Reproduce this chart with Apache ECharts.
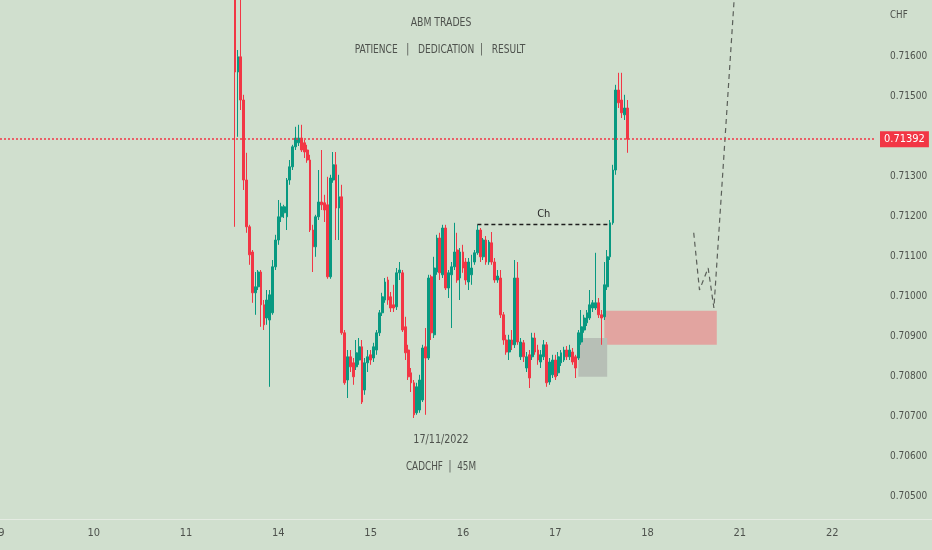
<!DOCTYPE html>
<html>
<head>
<meta charset="utf-8">
<title>CADCHF 45M</title>
<script src="https://cdn.jsdelivr.net/npm/echarts@6/dist/echarts.min.js"></script>
<style>
html, body { margin: 0; padding: 0; background: #d0dfce; }
#chart { width: 932px; height: 550px; }
</style>
</head>
<body>
<div id="chart"></div>
<script>
const dayLabels = ['9', '10', '11', '14', '15', '16', '17', '18', '21', '22']
const barsPerDay = 32
const totalSlots = 303
const firstSlot = 81

const opens = [
  0.71753, 0.71560, 0.71598, 0.71490, 0.71290, 0.71173, 0.71110, 0.71008, 0.71023, 0.71060,
  0.70978, 0.70945, 0.70940, 0.70958, 0.71073, 0.71140, 0.71198, 0.71208, 0.71198, 0.71290,
  0.71323, 0.71373, 0.71383, 0.71395, 0.71383, 0.71365, 0.71340, 0.71165, 0.71123, 0.71198,
  0.71235, 0.71233, 0.71228, 0.71048, 0.71290, 0.71328, 0.71220, 0.71248, 0.70908, 0.70790,
  0.70848, 0.70833, 0.70823, 0.70840, 0.70873, 0.70765, 0.70833, 0.70853, 0.70845, 0.70865,
  0.70908, 0.70958, 0.70990, 0.71040, 0.70998, 0.70978, 0.70973, 0.71058, 0.71058, 0.70923,
  0.70865, 0.70808, 0.70783, 0.70708, 0.70715, 0.70740, 0.70873, 0.70845, 0.71048, 0.70903,
  0.71060, 0.71145, 0.71053, 0.71170, 0.71020, 0.71053, 0.71073, 0.71115, 0.71045, 0.71110,
  0.71085, 0.71035, 0.71053, 0.71085, 0.71108, 0.71165, 0.71098, 0.71140, 0.71085, 0.71133,
  0.71085, 0.71040, 0.71045, 0.70953, 0.70890, 0.70860, 0.70890, 0.70878, 0.71045, 0.70848,
  0.70883, 0.70820, 0.70853, 0.70848, 0.70895, 0.70865, 0.70835, 0.70848, 0.70878, 0.70785,
  0.70803, 0.70840, 0.70808, 0.70833, 0.70840, 0.70865, 0.70848, 0.70860, 0.70848, 0.70845,
  0.70885, 0.70915, 0.70933, 0.70945, 0.70970, 0.70970, 0.70983, 0.70953, 0.70948, 0.71023,
  0.71098, 0.71183, 0.71315, 0.71515, 0.71490, 0.71453, 0.71470
]
const closes = [
  0.71560, 0.71598, 0.71490, 0.71290, 0.71173, 0.71103, 0.71008, 0.71023, 0.71060, 0.70978,
  0.70928, 0.70990, 0.71003, 0.71073, 0.71140, 0.71198, 0.71223, 0.71223, 0.71290, 0.71323,
  0.71373, 0.71395, 0.71395, 0.71365, 0.71360, 0.71340, 0.71165, 0.71123, 0.71198, 0.71235,
  0.71228, 0.71215, 0.71048, 0.71295, 0.71328, 0.71220, 0.71248, 0.70908, 0.70783, 0.70848,
  0.70823, 0.70798, 0.70858, 0.70873, 0.70735, 0.70833, 0.70848, 0.70840, 0.70873, 0.70908,
  0.70958, 0.70998, 0.71035, 0.70990, 0.70970, 0.70970, 0.71058, 0.71065, 0.70915, 0.70858,
  0.70798, 0.70783, 0.70703, 0.70773, 0.70790, 0.70870, 0.70845, 0.71045, 0.70908, 0.71070,
  0.71145, 0.71058, 0.71170, 0.71020, 0.71058, 0.71073, 0.71110, 0.71040, 0.71110, 0.71070,
  0.71040, 0.71085, 0.71070, 0.71108, 0.71165, 0.71098, 0.71140, 0.71085, 0.71135, 0.71085,
  0.71040, 0.71050, 0.70953, 0.70890, 0.70860, 0.70890, 0.70878, 0.71045, 0.70885, 0.70885,
  0.70848, 0.70848, 0.70795, 0.70895, 0.70860, 0.70840, 0.70853, 0.70878, 0.70783, 0.70835,
  0.70840, 0.70798, 0.70848, 0.70858, 0.70865, 0.70848, 0.70865, 0.70835, 0.70820, 0.70908,
  0.70923, 0.70945, 0.70958, 0.70978, 0.70983, 0.70983, 0.70953, 0.70945, 0.71028, 0.71098,
  0.71183, 0.71315, 0.71515, 0.71483, 0.71458, 0.71470, 0.71392
]
const lows = [
  0.71173, 0.71398, 0.71465, 0.71265, 0.71158, 0.71078, 0.70983, 0.70953, 0.71015, 0.70923,
  0.70915, 0.70928, 0.70773, 0.70953, 0.71065, 0.71128, 0.71185, 0.71195, 0.71165, 0.71278,
  0.71315, 0.71365, 0.71375, 0.71360, 0.71345, 0.71333, 0.71160, 0.71060, 0.71098, 0.71190,
  0.71215, 0.71185, 0.71043, 0.71043, 0.71283, 0.71140, 0.71140, 0.70903, 0.70778, 0.70745,
  0.70810, 0.70778, 0.70815, 0.70828, 0.70730, 0.70753, 0.70810, 0.70828, 0.70835, 0.70853,
  0.70900, 0.70950, 0.70983, 0.70978, 0.70960, 0.70960, 0.70965, 0.71040, 0.70910, 0.70840,
  0.70790, 0.70760, 0.70695, 0.70703, 0.70708, 0.70735, 0.70703, 0.70840, 0.70890, 0.70895,
  0.71053, 0.71040, 0.71045, 0.71015, 0.70995, 0.70920, 0.71065, 0.71033, 0.70990, 0.71058,
  0.71028, 0.71015, 0.71028, 0.71078, 0.71103, 0.71085, 0.71090, 0.71078, 0.71078, 0.71078,
  0.71033, 0.71033, 0.70945, 0.70878, 0.70853, 0.70840, 0.70865, 0.70870, 0.70878, 0.70840,
  0.70835, 0.70810, 0.70770, 0.70840, 0.70853, 0.70828, 0.70820, 0.70840, 0.70773, 0.70778,
  0.70795, 0.70790, 0.70800, 0.70825, 0.70835, 0.70840, 0.70840, 0.70828, 0.70795, 0.70840,
  0.70878, 0.70908, 0.70925, 0.70940, 0.70960, 0.70965, 0.70945, 0.70878, 0.70940, 0.71015,
  0.71090, 0.71178, 0.71303, 0.71470, 0.71445, 0.71440, 0.71358
]
const highs = [
  0.71840, 0.71615, 0.71790, 0.71503, 0.71358, 0.71178, 0.71115, 0.71060, 0.71065, 0.71065,
  0.70990, 0.71015, 0.71015, 0.71090, 0.71153, 0.71240, 0.71233, 0.71228, 0.71295, 0.71340,
  0.71378, 0.71423, 0.71428, 0.71428, 0.71390, 0.71378, 0.71353, 0.71178, 0.71203, 0.71315,
  0.71365, 0.71253, 0.71298, 0.71303, 0.71360, 0.71360, 0.71303, 0.71278, 0.70915, 0.70865,
  0.70865, 0.70845, 0.70890, 0.70895, 0.70890, 0.70845, 0.70865, 0.70865, 0.70883, 0.70915,
  0.70965, 0.71008, 0.71045, 0.71048, 0.71010, 0.71028, 0.71070, 0.71085, 0.71065, 0.70948,
  0.70878, 0.70820, 0.70790, 0.70783, 0.70803, 0.70878, 0.70920, 0.71053, 0.71053, 0.71098,
  0.71153, 0.71158, 0.71178, 0.71178, 0.71065, 0.71085, 0.71183, 0.71158, 0.71120, 0.71128,
  0.71095, 0.71095, 0.71103, 0.71115, 0.71178, 0.71170, 0.71145, 0.71150, 0.71140, 0.71160,
  0.71095, 0.71065, 0.71065, 0.70960, 0.70903, 0.70903, 0.70915, 0.71090, 0.71085, 0.70895,
  0.70890, 0.70860, 0.70865, 0.70908, 0.70908, 0.70878, 0.70865, 0.70890, 0.70885, 0.70845,
  0.70853, 0.70853, 0.70860, 0.70865, 0.70873, 0.70875, 0.70878, 0.70870, 0.70853, 0.70915,
  0.70965, 0.70953, 0.70965, 0.71015, 0.70990, 0.71108, 0.70995, 0.70965, 0.71085, 0.71115,
  0.71190, 0.71328, 0.71528, 0.71558, 0.71558, 0.71503, 0.71490
]

// drawings on the chart: [slot, price]
const chLine = [[165, 0.7118], [211, 0.7118]]
const pathSlots = [240, 242, 245, 247, 255]
const pathPrices = [0.71158, 0.71015, 0.7107, 0.7097, 0.7185]
const demandZone = [[209, 0.70963], [248, 0.70878]]
const baseZone = [[200, 0.70895], [210, 0.70798]]

const font = "'Liberation Sans Narrow', 'DejaVu Sans Condensed', 'Roboto', sans-serif"
const textColor = '#4e524d'
const upColor = '#089981'
const downColor = '#f23645'

const categories = []
for (let i = 0; i < totalSlots; i++) {
  const min = (i % barsPerDay) * 45
  const hh = String(Math.floor(min / 60)).padStart(2, '0')
  const mm = String(min % 60).padStart(2, '0')
  categories.push(`${dayLabels[Math.floor(i / barsPerDay)]} ${hh}:${mm}`)
}

const candles = opens.map((o, i) => [firstSlot + i, o, closes[i], lows[i], highs[i]])
const lastPrice = closes[closes.length - 1]

function caption(text, x, y, size, sx) {
  return {
    type: 'text',
    x: x,
    y: y,
    scaleX: sx,
    style: { text: text, fill: textColor, font: `${size}px ${font}`, align: 'center', verticalAlign: 'middle' }
  }
}

const chart = echarts.init(document.getElementById('chart'))
chart.setOption({
  animation: false,
  backgroundColor: '#d0dfce',
  grid: { left: 0, right: 58, top: -24, bottom: 14, containLabel: false, outerBoundsMode: 'none' },
  xAxis: {
    type: 'category',
    data: categories,
    boundaryGap: true,
    offset: -17,
    axisLine: { lineStyle: { color: '#e4ebe2', width: 1 } },
    axisTick: { show: false },
    splitLine: { show: false },
    axisLabel: {
      interval: i => i % barsPerDay === 0,
      formatter: v => v.split(' ')[0],
      color: textColor,
      fontSize: 11,
      fontFamily: font,
      margin: 9
    }
  },
  yAxis: {
    type: 'value',
    position: 'right',
    min: 0.704,
    max: 0.718,
    interval: 0.001,
    axisLine: { show: false },
    axisTick: { show: false },
    splitLine: { show: false },
    axisLabel: {
      margin: 16,
      color: textColor,
      fontSize: 10,
      fontFamily: font,
      formatter: v => (v > 0.7165 || v < 0.7045 || Math.abs(v - 0.714) < 0.0002 ? '' : v.toFixed(5))
    }
  },
  graphic: [
    caption('ABM TRADES', 441, 23, 12, 0.86),
    caption('PATIENCE   |   DEDICATION  |   RESULT', 440, 50, 12, 0.84),
    caption('17/11/2022', 441, 440, 12, 0.89),
    caption('CADCHF  |  45M', 441, 467, 12, 0.82),
    { type: 'text', x: 890, y: 15, scaleX: 0.88, style: { text: 'CHF', fill: textColor, font: `11px ${font}`, align: 'left', verticalAlign: 'middle' } },
    { type: 'line', shape: { x1: 874, y1: 519.5, x2: 932, y2: 519.5 }, style: { stroke: '#e4ebe2', lineWidth: 1 } }
  ],
  series: [
    {
      type: 'line',
      z: 1,
      silent: true,
      symbol: 'none',
      data: pathSlots.map((s, i) => [categories[s], pathPrices[i]]),
      lineStyle: { color: '#5a5f59', width: 1.2, type: [5, 4] },
      markArea: {
        silent: true,
        data: [
          [
            { xAxis: categories[demandZone[0][0]], yAxis: demandZone[0][1], itemStyle: { color: '#e2a4a0' } },
            { xAxis: categories[demandZone[1][0]], yAxis: demandZone[1][1] }
          ],
          [
            { xAxis: categories[baseZone[0][0]], yAxis: baseZone[0][1], itemStyle: { color: '#b7bfb6' } },
            { xAxis: categories[baseZone[1][0]], yAxis: baseZone[1][1] }
          ]
        ]
      }
    },
    {
      type: 'candlestick',
      z: 3,
      barWidth: '80%',
      data: candles,
      encode: { x: 0, y: [1, 2, 3, 4] },
      itemStyle: {
        color: upColor,
        color0: downColor,
        borderColor: upColor,
        borderColor0: downColor,
        borderWidth: 1
      },
      markLine: {
        silent: true,
        precision: 5,
        symbol: ['none', 'none'],
        data: [
          {
            yAxis: lastPrice,
            lineStyle: { color: downColor, type: [2, 2], width: 1.6 },
            label: {
              position: 'end',
              distance: 6,
              formatter: p => Number(p.value).toFixed(5),
              color: '#fff',
              backgroundColor: downColor,
              padding: [3, 4, 2, 4],
              fontSize: 11,
              fontFamily: font
            }
          },
          [
            {
              coord: [categories[chLine[0][0]], chLine[0][1]],
              lineStyle: { color: '#1e1e1e', type: [4, 3], width: 1.3 },
              label: { position: 'middle', formatter: 'Ch', color: '#2a2a2a', fontSize: 11, fontFamily: font, distance: 4 }
            },
            { coord: [categories[chLine[1][0]], chLine[1][1]] }
          ]
        ]
      }
    }
  ]
})
</script>
</body>
</html>
